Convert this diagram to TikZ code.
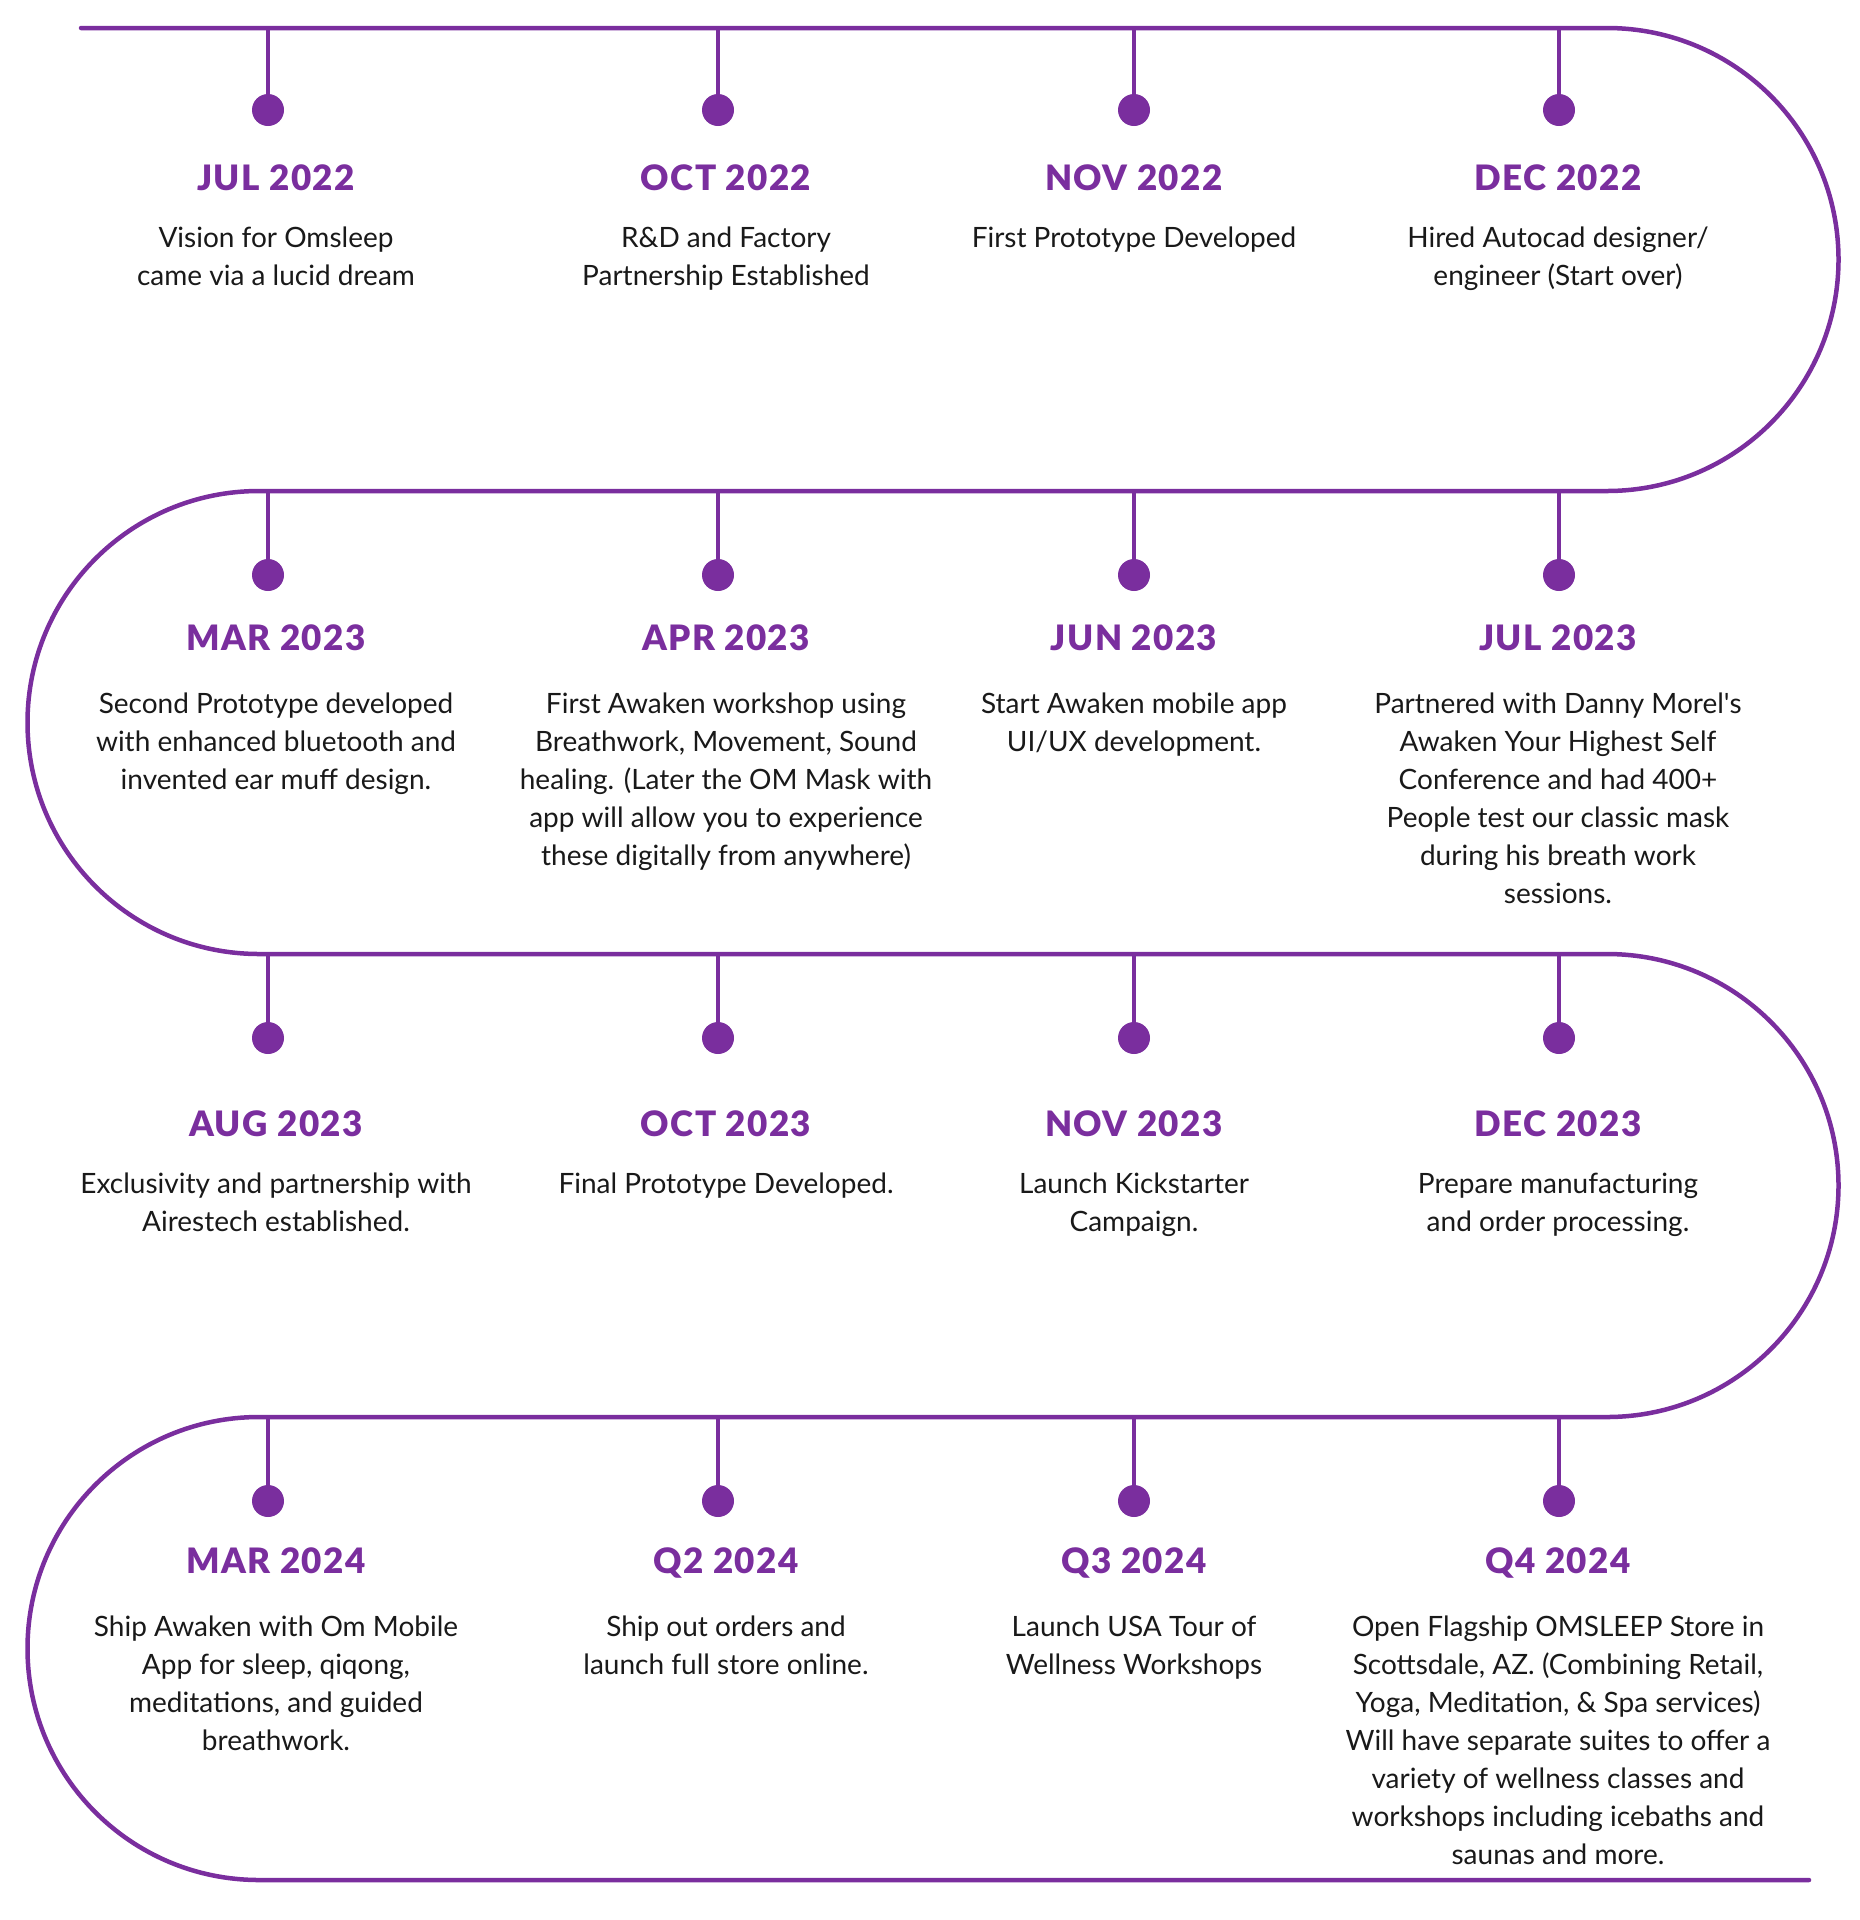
\documentclass[tikz,border=0pt]{standalone}
\usepackage{fontspec}
\setmainfont{Lato}
\newfontfamily\headfont[LetterSpace=4]{Lato Black}
\definecolor{omp}{HTML}{7A2E9E}
\tikzset{
  tl/.style={draw=omp, line width=4.5pt, line cap=round},
  stem/.style={draw=omp, line width=4.5pt},
  dotnode/.style={circle, fill=omp, minimum size=32pt, inner sep=0pt},
  head/.style={anchor=base, inner sep=0pt, text=omp, font=\headfont\fontsize{35}{35}\selectfont},
  body/.style={anchor=base, inner sep=0pt, align=center, text=black!90, font=\fontsize{28}{38}\selectfont}
}
\begin{document}
\begin{tikzpicture}[x=1pt,y=1pt]
\useasboundingbox (0,0) rectangle (1860,-1920);
% main serpentine line
\draw[tl] (81,-28) -- (1607,-28) arc[start angle=90, end angle=-90, radius=231.5]
  -- (259,-491) arc[start angle=90, end angle=270, radius=231.5]
  -- (1607,-954) arc[start angle=90, end angle=-90, radius=231.5]
  -- (259,-1417) arc[start angle=90, end angle=270, radius=231.5]
  -- (1809,-1880);
% stems and dots
\foreach \r/\ly/\dy in {1/28/110, 2/491/575, 3/954/1038, 4/1417/1501}{
  \foreach \c/\sx in {1/268, 2/718, 3/1134, 4/1559}{
    \coordinate (s\r\c) at (\sx,-\ly);
    \node[dotnode] (d\r\c) at (\sx,-\dy) {};
    \draw[stem] (s\r\c) -- (d\r\c.center);
  }
}
% row 1 (body anchors are the baseline of the last line)
\node[head] (h11) at (276,-190) {JUL 2022};
\node[head] (h12) at (726,-190) {OCT 2022};
\node[head] (h13) at (1134,-190) {NOV 2022};
\node[head] (h14) at (1558,-190) {DEC 2022};
\node[body] (b11) at (276,-285) {Vision for Omsleep\\came via a lucid dream};
\node[body] (b12) at (726,-285) {R\&D and Factory\\Partnership Established};
\node[body] (b13) at (1134,-247) {First Prototype Developed};
\node[body] (b14) at (1558,-285) {Hired Autocad designer/\\engineer (Start over)};
% row 2
\node[head] (h21) at (276,-650) {MAR 2023};
\node[head] (h22) at (726,-650) {APR 2023};
\node[head] (h23) at (1134,-650) {JUN 2023};
\node[head] (h24) at (1558,-650) {JUL 2023};
\node[body] (b21) at (276,-789) {Second Prototype developed\\with enhanced bluetooth and\\invented ear muff design.};
\node[body] (b22) at (726,-865) {First Awaken workshop using\\Breathwork, Movement, Sound\\healing. (Later the OM Mask with\\app will allow you to experience\\these digitally from anywhere)};
\node[body] (b23) at (1134,-751) {Start Awaken mobile app\\UI/UX development.};
\node[body] (b24) at (1558,-903) {Partnered with Danny Morel\textquotesingle s\\Awaken Your Highest Self\\Conference and had 400+\\People test our classic mask\\during his breath work\\sessions.};
% row 3
\node[head] (h31) at (276,-1136) {AUG 2023};
\node[head] (h32) at (726,-1136) {OCT 2023};
\node[head] (h33) at (1134,-1136) {NOV 2023};
\node[head] (h34) at (1558,-1136) {DEC 2023};
\node[body] (b31) at (276,-1231) {Exclusivity and partnership with\\Airestech established.};
\node[body] (b32) at (726,-1193) {Final Prototype Developed.};
\node[body] (b33) at (1134,-1231) {Launch Kickstarter\\Campaign.};
\node[body] (b34) at (1558,-1231) {Prepare manufacturing\\and order processing.};
% row 4
\node[head] (h41) at (276,-1573) {MAR 2024};
\node[head] (h42) at (726,-1573) {Q2 2024};
\node[head] (h43) at (1134,-1573) {Q3 2024};
\node[head] (h44) at (1558,-1573) {Q4 2024};
\node[body] (b41) at (276,-1750) {Ship Awaken with Om Mobile\\App for sleep, qiqong,\\meditations, and guided\\breathwork.};
\node[body] (b42) at (726,-1674) {Ship out orders and\\launch full store online.};
\node[body] (b43) at (1134,-1674) {Launch USA Tour of\\Wellness Workshops};
\node[body] (b44) at (1558,-1864) {Open Flagship OMSLEEP Store in\\Scottsdale, AZ. (Combining Retail,\\Yoga, Meditation, \& Spa services)\\Will have separate suites to offer a\\variety of wellness classes and\\workshops including icebaths and\\saunas and more.};
\end{tikzpicture}
\end{document}
